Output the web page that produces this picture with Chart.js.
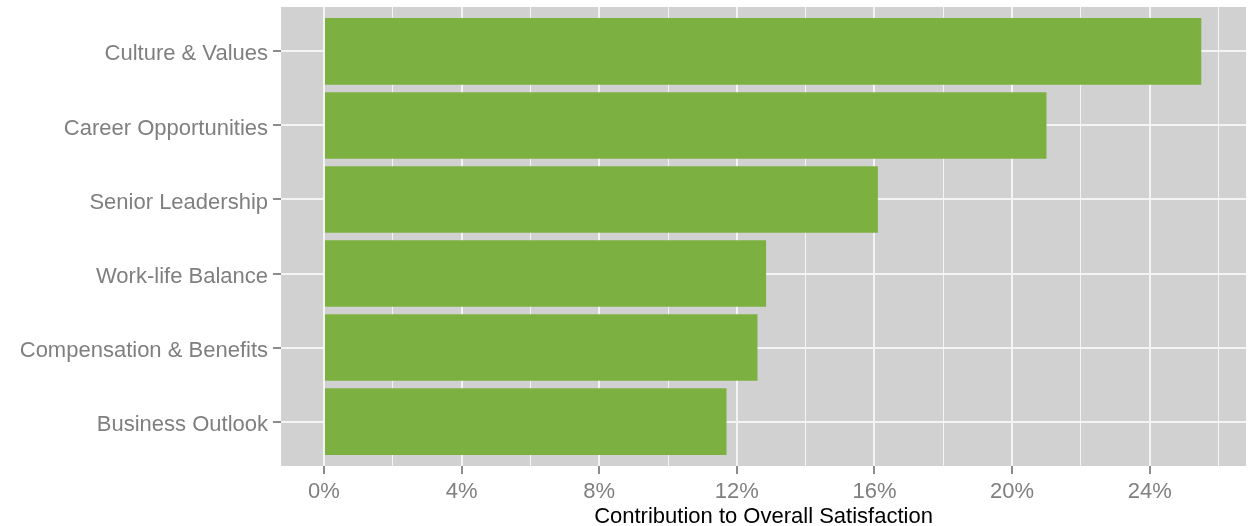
<!DOCTYPE html>
<html>
<head>
<meta charset="utf-8">
<script src="https://cdn.jsdelivr.net/npm/chart.js@4"></script>
<style>
  body { margin: 0; background: #fff; }
  #wrap { width: 1250px; height: 526px; position: relative; }
</style>
</head>
<body>
<div id="wrap"><canvas id="myChart"></canvas></div>
<script>
const categories = ['Culture & Values', 'Career Opportunities', 'Senior Leadership', 'Work-life Balance', 'Compensation & Benefits', 'Business Outlook']
const contributions = [25.5, 21.0, 16.1, 12.85, 12.6, 11.7]
const xTickValues = [0, 2, 4, 6, 8, 10, 12, 14, 16, 18, 20, 22, 24, 26]

const points = categories.map((c, i) => ({ x: contributions[i], y: i + 1 }))

// fond gris du panneau, comme ggplot
const panelBg = {
    id: 'panelBg',
    beforeDraw(chart) {
        const a = chart.chartArea
        const ctx = chart.ctx
        ctx.save()
        ctx.fillStyle = '#D1D1D1'
        ctx.fillRect(a.left, a.top, a.right - a.left, a.bottom - a.top)
        ctx.restore()
    }
}

const isMajor = (v) => v % 4 === 0
const police = { family: 'Liberation Sans, Arial, sans-serif', size: 22 }

const config = {
    type: 'bar',
    data: {
        datasets: [{
            label: 'Contribution',
            data: points,
            backgroundColor: '#7CB142',
            borderWidth: 0,
            barPercentage: 0.9,
            categoryPercentage: 1
        }]
    },
    options: {
        indexAxis: 'y',
        responsive: true,
        maintainAspectRatio: false,
        animation: false,
        layout: { padding: { top: 7, right: 4, left: 0, bottom: 0 } },
        plugins: { legend: { display: false }, tooltip: { enabled: false } },
        scales: {
            x: {
                type: 'linear',
                min: -1.25,
                max: 26.8,
                afterBuildTicks: (s) => { s.ticks = xTickValues.map(v => ({ value: v })) },
                afterFit: (s) => { s.height = 60; s.paddingLeft = 0; s.paddingRight = 0 },
                border: { display: false },
                grid: {
                    color: '#F4F4F4',
                    lineWidth: (c) => isMajor(c.tick.value) ? 2 : 1,
                    tickColor: (c) => isMajor(c.tick.value) ? '#8C8C8C' : 'rgba(0,0,0,0)',
                    tickLength: 8,
                    tickWidth: 2
                },
                ticks: {
                    autoSkip: false,
                    maxRotation: 0,
                    padding: 5,
                    color: '#7F7F7F',
                    font: police,
                    callback: (v) => isMajor(v) ? v + '%' : ''
                },
                title: {
                    display: true,
                    text: 'Contribution to Overall Satisfaction',
                    color: '#000',
                    font: { family: police.family, size: 22, lineHeight: 0.85 },
                    padding: { top: 0, bottom: 0 }
                }
            },
            y: {
                type: 'linear',
                reverse: true,
                offset: false,
                min: 0.4,
                max: 6.6,
                afterBuildTicks: (s) => { s.ticks = categories.map((c, i) => ({ value: i + 1 })) },
                afterFit: (s) => { s.width = 281; s.paddingTop = 0; s.paddingBottom = 0 },
                border: { display: false },
                grid: {
                    offset: false,
                    color: '#F4F4F4',
                    lineWidth: 2,
                    tickColor: '#8C8C8C',
                    tickLength: 8,
                    tickWidth: 2
                },
                ticks: {
                    autoSkip: false,
                    padding: 5,
                    labelOffset: 3,
                    color: '#7F7F7F',
                    font: police,
                    callback: (v) => categories[v - 1]
                }
            }
        }
    },
    plugins: [panelBg]
}

new Chart(document.getElementById('myChart'), config)
</script>
</body>
</html>
